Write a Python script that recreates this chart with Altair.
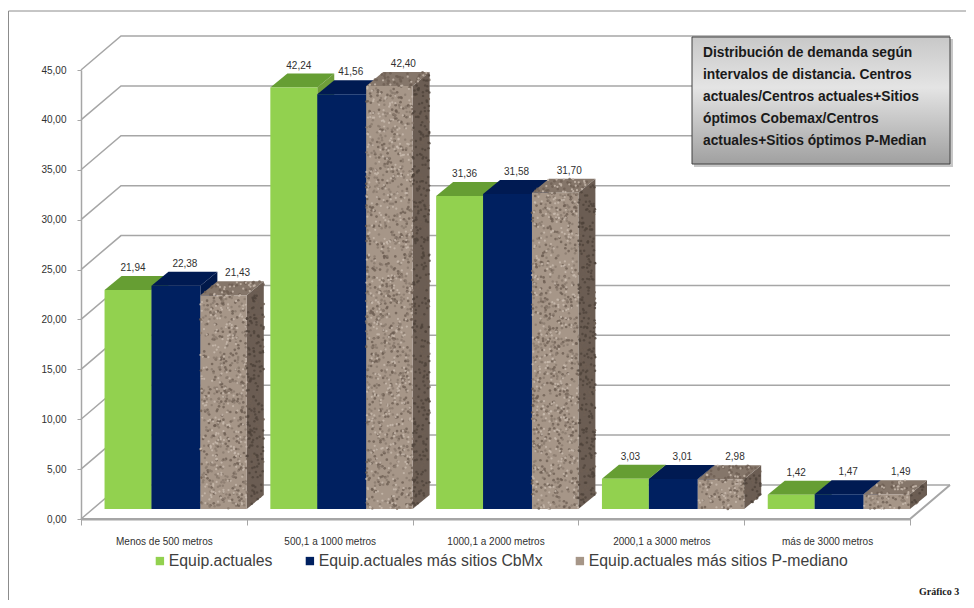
import math
import altair as alt
import pandas as pd

# ---- values
categories = ["Menos de 500 metros", "500,1 a 1000  metros", "1000,1 a 2000  metros",
              "2000,1 a 3000  metros", "más de 3000  metros"]
series_names = ["Equip.actuales", "Equip.actuales más sitios CbMx", "Equip.actuales más sitios P-mediano"]
actuales = [21.94, 42.24, 31.36, 3.03, 1.42]
cbmx = [22.38, 41.56, 31.58, 3.01, 1.47]
pmediano = [21.43, 42.40, 31.70, 2.98, 1.49]
y_ticks = [0, 5, 10, 15, 20, 25, 30, 35, 40, 45]
box_lines = ["Distribución de demanda según", "intervalos de distancia. Centros",
             "actuales/Centros actuales+Sitios", "óptimos Cobemax/Centros",
             "actuales+Sitios óptimos P-Median"]

# ---- pseudo-3D geometry, in data units
PW, PH = 829, 449
XD, YD = [0, 5], [0, 45]
px_x = PW / 5
px_y = PH / 45
WALL_DX, WALL_DY = 40 / px_x, 34 / px_y      # depth of the chart's floor
BAR_DX, BAR_DY = 17 / px_x, 14 / px_y        # depth of a bar
BASE = 10 / px_y                             # bars stand on the floor, behind the axis
EDGES = [0.142, 0.425, 0.720, 1.0]
FRONT = ["#92D14F", "#002060", "#A69688"]
TOP = ["#669E33", "#001A52", "#85766A"]
SIDE = ["#6F9E3A", "#00184A", "#6B5D53"]
GRID = "#A6A6A6"
LABEL_DX = [5, 9, 14]
FONT = "Liberation Sans"
TXT = "#303030"

values = [actuales, cbmx, pmediano]
front, tops, sides, labels = [], [], [], []
for s, vals in enumerate(values):
    for g, v in enumerate(vals):
        x0, x1 = g + EDGES[s], g + EDGES[s + 1]
        yf, yb = v + BASE, v + BASE + BAR_DY
        front.append(dict(s=s, name=series_names[s], x0=x0, x1=x1, y0=BASE, y1=yf))
        for xx, a, b in [(x0, yf, yf), (x0 + BAR_DX, yb, yf), (x1, yb, yf), (x1 + BAR_DX, yb, yb)]:
            tops.append(dict(s=s, k=f"{s}-{g}", x=xx, a=a, b=b))
        for xx, a, b in [(x1, yf, BASE), (x1 + BAR_DX, yb, BASE + BAR_DY)]:
            sides.append(dict(s=s, k=f"{s}-{g}", x=xx, a=a, b=b))
        labels.append(dict(s=s, x=(x0 + x1) / 2, y=yb, t=f"{v:.2f}".replace(".", ",")))
front, tops, sides, labels = map(pd.DataFrame, (front, tops, sides, labels))

grid = []
for v in y_ticks:
    for i, (xx, yy) in enumerate([(0, v), (WALL_DX, v + WALL_DY), (5 + WALL_DX, v + WALL_DY)]):
        grid.append(dict(k=v, i=i, x=xx, y=yy))
grid = pd.DataFrame(grid)
floor_edge = pd.DataFrame([dict(x=0, y=0), dict(x=5, y=0), dict(x=5 + WALL_DX, y=WALL_DY)])


# stone texture of the third series: a fixed hash, used for the surface look only
def h(a):
    r = math.sin(a * 12.9898) * 43758.5453
    return r - math.floor(r)


speck = []
n = 0
for g, v in enumerate(pmediano):
    x0, x1 = g + EDGES[2], g + EDGES[3]
    w = x1 - x0
    for face, area in [("f", w * px_x * v * px_y), ("t", w * px_x * 14), ("s", 17 * v * px_y)]:
        for _ in range(int(area / 14)):
            n += 1
            u, t, c = h(n), h(n + 0.37), h(n + 0.71)
            if face == "f":
                xx, yy = x0 + u * w, BASE + t * v
                tone = 0 if c < 0.34 else (1 if c < 0.7 else 2)
            elif face == "t":
                xx, yy = x0 + u * w + t * BAR_DX, BASE + v + t * BAR_DY
                tone = 0 if c < 0.6 else 2
            else:
                xx, yy = x1 + u * BAR_DX, BASE + t * v + u * BAR_DY
                tone = 3 if c < 0.6 else 0
            speck.append(dict(x=xx, y=yy, tone=tone))
speck = pd.DataFrame(speck)

y_axis = alt.Axis(values=y_ticks, title=None, grid=False, labelFont=FONT, labelFontSize=10, labelColor=TXT,
                  labelExpr="replace(format(datum.value,'.2f'),'.',',')", tickSize=4, tickColor=GRID,
                  domainColor=GRID, domainWidth=1.5, labelPadding=11)


def X(f="x"):
    return alt.X(f"{f}:Q", scale=alt.Scale(domain=XD, nice=False, zero=False), axis=None)


def Y(f="y"):
    return alt.Y(f"{f}:Q", scale=alt.Scale(domain=YD, nice=False, zero=False), axis=y_axis, stack=None)


layers = [
    alt.Chart(grid).mark_line(color=GRID, strokeWidth=1.5).encode(
        x=X(), y=Y(), detail="k:N", order="i:Q"),
    alt.Chart(floor_edge).mark_line(color=GRID, strokeWidth=2).encode(x=X(), y=Y()),
    alt.Chart(pd.DataFrame({"cat": categories})).mark_point(opacity=0).encode(
        x=alt.X("cat:N", sort=categories,
                scale=alt.Scale(type="band", paddingInner=0, paddingOuter=0),
                axis=alt.Axis(title=None, tickBand="extent", labelAngle=0, labelFont=FONT, labelFontSize=10,
                              labelColor=TXT, tickSize=6, tickColor=GRID, domainColor=GRID, domainWidth=2,
                              labelPadding=11, grid=False, labelLimit=160))),
]

color = alt.Color("name:N", scale=alt.Scale(domain=series_names, range=FRONT),
                  legend=alt.Legend(title=None, orient="none", legendX=71, legendY=483, direction="horizontal",
                                    columns=3, symbolType="square", symbolSize=70, symbolStrokeWidth=0,
                                    labelFont=FONT, labelFontSize=15.8, labelColor="#404040", labelOffset=1,
                                    columnPadding=29, labelLimit=300))

for s in range(3):
    layers += [
        alt.Chart(sides[sides.s == s]).mark_area(color=SIDE[s], orient="vertical").encode(
            x=X(), y=Y("a"), y2="b:Q", detail="k:N"),
        alt.Chart(tops[tops.s == s]).mark_area(color=TOP[s], orient="vertical").encode(
            x=X(), y=Y("a"), y2="b:Q", detail="k:N"),
        alt.Chart(front[front.s == s]).mark_rect().encode(
            x=X("x0"), x2="x1:Q", y=Y("y0"), y2="y1:Q", color=color),
    ]

for tone, col, sz in [(0, "#6E5F54", 7), (1, "#8A7A6E", 6), (2, "#C9BBAF", 5), (3, "#4F433B", 6)]:
    layers.append(alt.Chart(speck[speck.tone == tone]).mark_point(
        filled=True, color=col, size=sz, opacity=0.8, shape="circle").encode(x=X(), y=Y()))

for s in range(3):
    layers.append(alt.Chart(labels[labels.s == s]).mark_text(
        font=FONT, fontSize=10, color=TXT, baseline="bottom", dx=LABEL_DX[s], dy=-3).encode(
        x=X(), y=Y(), text="t:N"))

# frame, note box and footer
one = pd.DataFrame({"a": [0]})
BOX = dict(x=alt.value(611), x2=alt.value(869), y=alt.value(-33), y2=alt.value(94))
layers += [
    alt.Chart(one).mark_rule(color="#8C8C8C", strokeWidth=1).encode(
        x=alt.value(-72.5), y=alt.value(-59), y2=alt.value(538)),
    alt.Chart(one).mark_rule(color="#8C8C8C", strokeWidth=1).encode(
        x=alt.value(-72.5), x2=alt.value(893), y=alt.value(-59)),
    alt.Chart(one).mark_rect(color="#000000", opacity=0.22).encode(
        x=alt.value(613), x2=alt.value(872), y=alt.value(-31), y2=alt.value(97)),
    alt.Chart(one).mark_rect(
        color=alt.Gradient(gradient="linear", x1=0, x2=0, y1=0, y2=1,
                           stops=[alt.GradientStop(offset=0, color="#C8C8C8"),
                                  alt.GradientStop(offset=0.4, color="#E4E4E4"),
                                  alt.GradientStop(offset=1, color="#A0A0A0")]),
        stroke="#404040", strokeWidth=1).encode(**BOX),
    alt.Chart(one).mark_text(
        text=box_lines, lineHeight=22, align="left", baseline="top", font=FONT, fontSize=13.8,
        fontWeight="bold", color="#1A1A1A").encode(x=alt.value(622), y=alt.value(-24)),
    alt.Chart(one).mark_text(
        text="Gráfico 3", align="left", baseline="middle", font="Liberation Serif", fontSize=10,
        fontWeight="bold", color="#1A1A1A").encode(x=alt.value(838), y=alt.value(522)),
]

chart = alt.layer(*layers).resolve_scale(x="independent").properties(
    width=PW, height=PH,
    autosize=alt.AutoSizeParams(type="none"),
    padding={"left": 73, "top": 62, "right": 56, "bottom": 81},
    background="white",
).configure_view(strokeWidth=0)

chart.save("out.html", embed_options={"renderer": "svg", "actions": False})
